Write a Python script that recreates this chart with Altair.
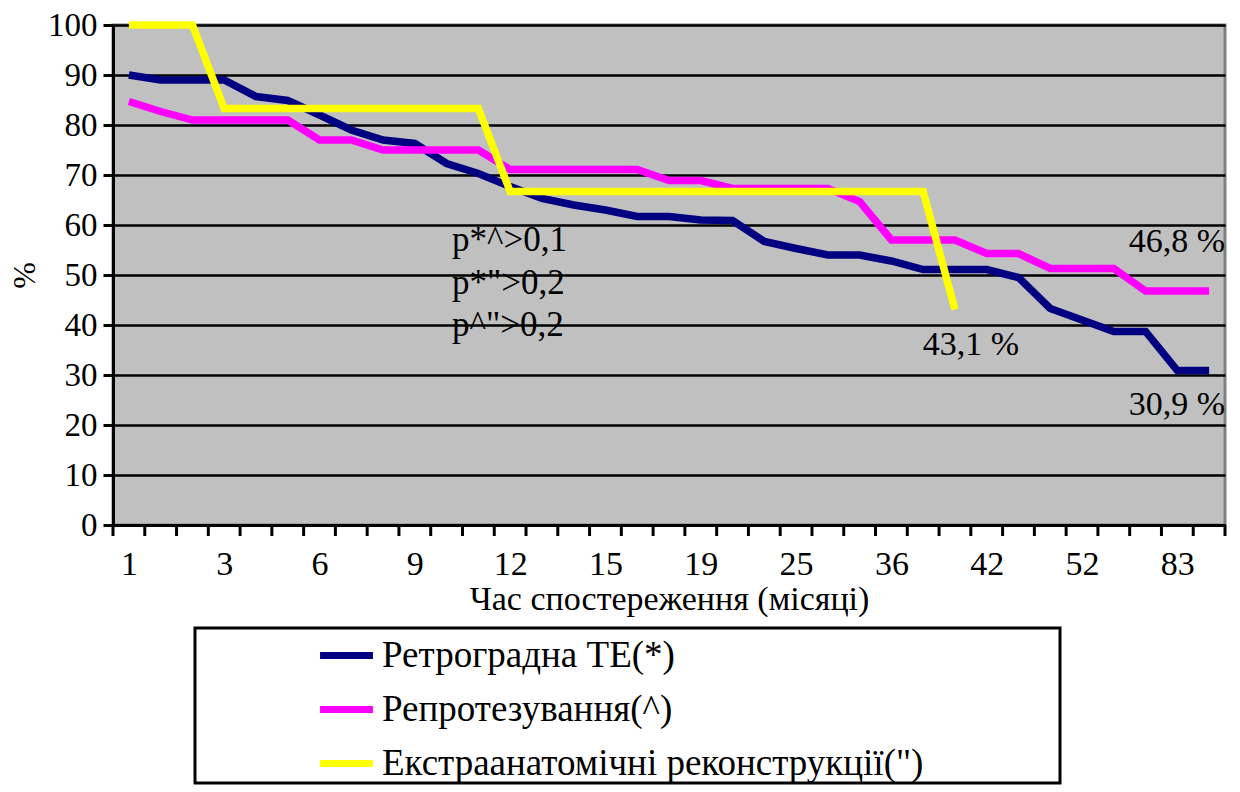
import altair as alt
import pandas as pd

# Observation points (35 categories); only every third one carries a tick label
tick_labels = ["1", "3", "6", "9", "12", "15", "19", "25", "36", "42", "52", "83"]
label_step = 3
n_points = 35

series_names = ["Ретроградна ТЕ(*)", "Репротезування(^)", "Екстраанатомічні реконструкції(\")"]
series_colors = ["#000080", "#FF00FF", "#FFFF00"]

retrograde = [90, 89, 89, 89, 85.7, 84.9, 82, 79, 77, 76.3, 72.3, 70.3, 67.7, 65.3, 64,
              63, 61.7, 61.7, 61, 60.9, 56.7, 55.3, 54, 54, 52.8, 51.1, 51.1, 51.1, 49.5,
              43.3, 41, 38.7, 38.7, 30.9, 30.9]
reprosthesis = [84.7, 82.7, 81, 81, 81, 81, 77, 77, 75, 75, 75, 75, 71.1, 71.1, 71.1,
                71.1, 71.1, 68.9, 68.9, 67.3, 67.3, 67.3, 67.3, 64.7, 57, 57, 57, 54.3,
                54.3, 51.3, 51.3, 51.3, 46.8, 46.8, 46.8]
extra_anatomic = [100, 100, 100, 83.3, 83.3, 83.3, 83.3, 83.3, 83.3, 83.3, 83.3, 83.3,
                  66.7, 66.7, 66.7, 66.7, 66.7, 66.7, 66.7, 66.7, 66.7, 66.7, 66.7, 66.7,
                  66.7, 66.7, 43.1]

# Annotation texts with their anchor (category index, percent)
p_texts = ["p*^>0,1", "p*\">0,2", "p^\">0,2"]
p_x = [10.17, 10.17, 10.17]
p_y = [57, 48.5, 40]
right_texts = ["46,8 %", "30,9 %"]
right_x = [34.5, 34.5]
right_y = [56.6, 24]
mid_texts = ["43,1 %"]
mid_x = [26.5]
mid_y = [36]

rows = []
for name, values in zip(series_names, [retrograde, reprosthesis, extra_anatomic]):
    for i, v in enumerate(values):
        rows.append({"idx": i, "value": v, "series": name})
df = pd.DataFrame(rows)

FONT = "Liberation Serif"

# Category boundaries carry the x tick marks
bounds_df = pd.DataFrame({"b": [i - 0.5 for i in range(n_points + 1)]})
label_positions = [k * label_step for k in range(len(tick_labels))]
label_expr = "''"
for pos, lab in reversed(list(zip(label_positions, tick_labels))):
    label_expr = f"(datum.value == {pos}) ? '{lab}' : ({label_expr})"

x_scale = alt.Scale(domain=[-0.5, n_points - 0.5], nice=False, zero=False)

x_enc = alt.X(
    "idx:Q",
    scale=x_scale,
    axis=alt.Axis(
        title="Час спостереження (місяці)",
        values=label_positions,
        labelExpr=label_expr,
        labelOverlap=False,
        labelFlush=False,
        grid=False,
        ticks=False,
        domainColor="black",
        domainWidth=3,
        labelFont=FONT,
        labelFontSize=34,
        labelColor="black",
        labelPadding=22,
        titleFont=FONT,
        titleFontSize=34,
        titleFontWeight="normal",
        titleColor="black",
        titlePadding=1,
    ),
)

y_enc = alt.Y(
    "value:Q",
    scale=alt.Scale(domain=[0, 100], nice=False),
    axis=alt.Axis(
        title="%",
        values=list(range(0, 101, 10)),
        grid=True,
        gridColor="black",
        gridWidth=2.5,
        tickSize=10,
        tickWidth=3,
        tickColor="black",
        domainColor="black",
        domainWidth=3,
        labelFont=FONT,
        labelFontSize=33,
        labelColor="black",
        labelPadding=6,
        titleFont=FONT,
        titleFontSize=32,
        titleFontWeight="normal",
        titleColor="black",
        titlePadding=6,
    ),
)

# A trailing blank glyph widens the legend frame to the right
legend_pad = "\u2800" * 5

lines = alt.Chart(df).mark_line(strokeWidth=7.5, strokeJoin="miter").encode(
    x=x_enc,
    y=y_enc,
    color=alt.Color(
        "series:N",
        scale=alt.Scale(domain=series_names, range=series_colors),
        title=None,
        legend=alt.Legend(
            orient="none",
            legendX=82,
            legendY=603,
            direction="vertical",
            fillColor="white",
            strokeColor="black",
            padding=1,
            symbolType="M-1.15,0H1.15",
            symbolSize=2116,
            symbolStrokeWidth=7,
            symbolOffset=124,
            rowPadding=9,
            labelOffset=9,
            labelFont=FONT,
            labelFontSize=37,
            labelColor="black",
            labelLimit=1000,
            labelExpr=f"datum.label + '{legend_pad}'",
        ),
    ),
    order=alt.Order("idx:Q"),
)

# Boundary tick marks hanging below the x axis line
x_ticks = alt.Chart(bounds_df).mark_rule(color="black", strokeWidth=3).encode(
    x=alt.X("b:Q", scale=x_scale),
    y=alt.value(500),
    y2=alt.value(511),
)


def text_layer(texts, xs, ys, align, size):
    tdf = pd.DataFrame({"text": texts, "x": xs, "y": ys})
    return alt.Chart(tdf).mark_text(
        font=FONT, fontSize=size, align=align, baseline="middle", color="black"
    ).encode(x="x:Q", y="y:Q", text="text:N")


p_marks = text_layer(p_texts, p_x, p_y, "left", 35)
right_marks = text_layer(right_texts, right_x, right_y, "right", 34)
mid_marks = text_layer(mid_texts, mid_x, mid_y, "center", 34)

chart = (
    alt.layer(lines, x_ticks, p_marks, right_marks, mid_marks)
    .properties(
        width=1112,
        height=500,
        autosize=alt.AutoSizeParams(type="none"),
        padding={"left": 113, "top": 25, "right": 15, "bottom": 300},
        background="white",
    )
    .configure_view(fill="#C0C0C0", stroke="#808080", strokeWidth=3)
    .configure_legend(strokeWidth=3)
)

chart.save("out.html", embed_options={"renderer": "svg", "actions": False})
